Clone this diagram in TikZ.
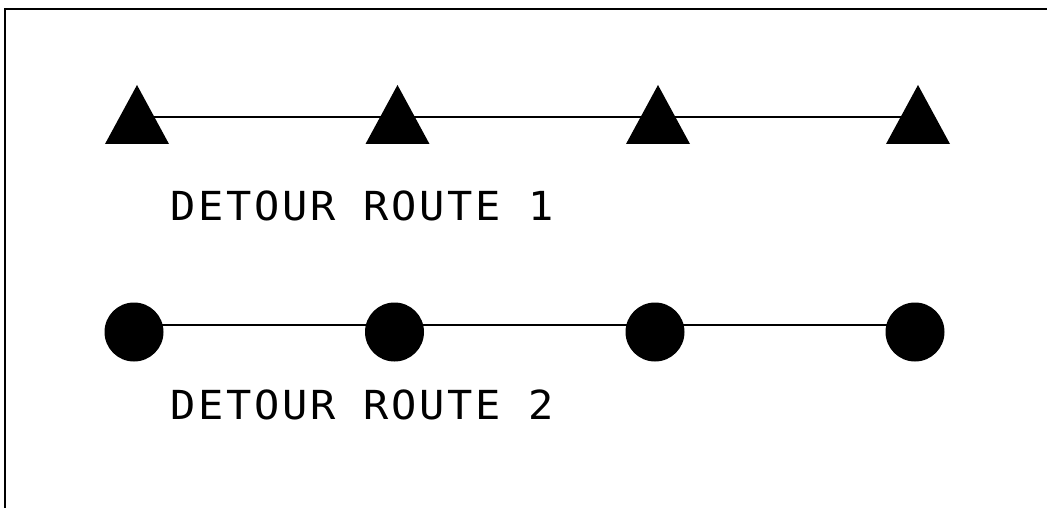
\documentclass[tikz,border=0pt]{standalone}
\usepackage{fontspec}
\newfontfamily\routefont[FakeStretch=1.05,LetterSpace=6.7]{DejaVu Sans Mono}
\usepackage{tikz}

\begin{document}
\begin{tikzpicture}[x=1pt,y=-1pt,
	route/.style={line width=1.4pt},
	stopdot/.style={circle, fill=black, inner sep=0pt, minimum size=59pt},
	routetext/.style={anchor=base west, inner sep=0pt, font=\routefont\fontsize{40}{42}\selectfont}]
		\useasboundingbox (0,0) rectangle (1047,508);
		% frame
		\draw[line width=1.5pt] (5,508) -- (5,9) -- (1047,9);

		% route 1
		\foreach \n/\x in {1/137,2/397.5,3/658,4/918}
		\coordinate (a\n) at (\x,117);
		\draw[route] (a1) -- (a2) -- (a3) -- (a4);
		\foreach \n in {1,...,4}
		\fill ([shift={(-32,27)}]a\n) -- ([shift={(0,-32)}]a\n) -- ([shift={(32,27)}]a\n) -- cycle;
		\node[routetext] (text1) at (170,220) {DETOUR ROUTE 1};

		% route 2
		\foreach \n/\x in {1/134,2/394.5,3/655,4/915}
		\coordinate (b\n) at (\x,325);
		\draw[route] (b1) -- (b2) -- (b3) -- (b4);
		\foreach \n/\x in {1/134,2/394.5,3/655,4/915}
		\node[stopdot] (c\n) at (\x,332) {};
		\node[routetext] (text2) at (170,419) {DETOUR ROUTE 2};
	\end{tikzpicture}
\end{document}
